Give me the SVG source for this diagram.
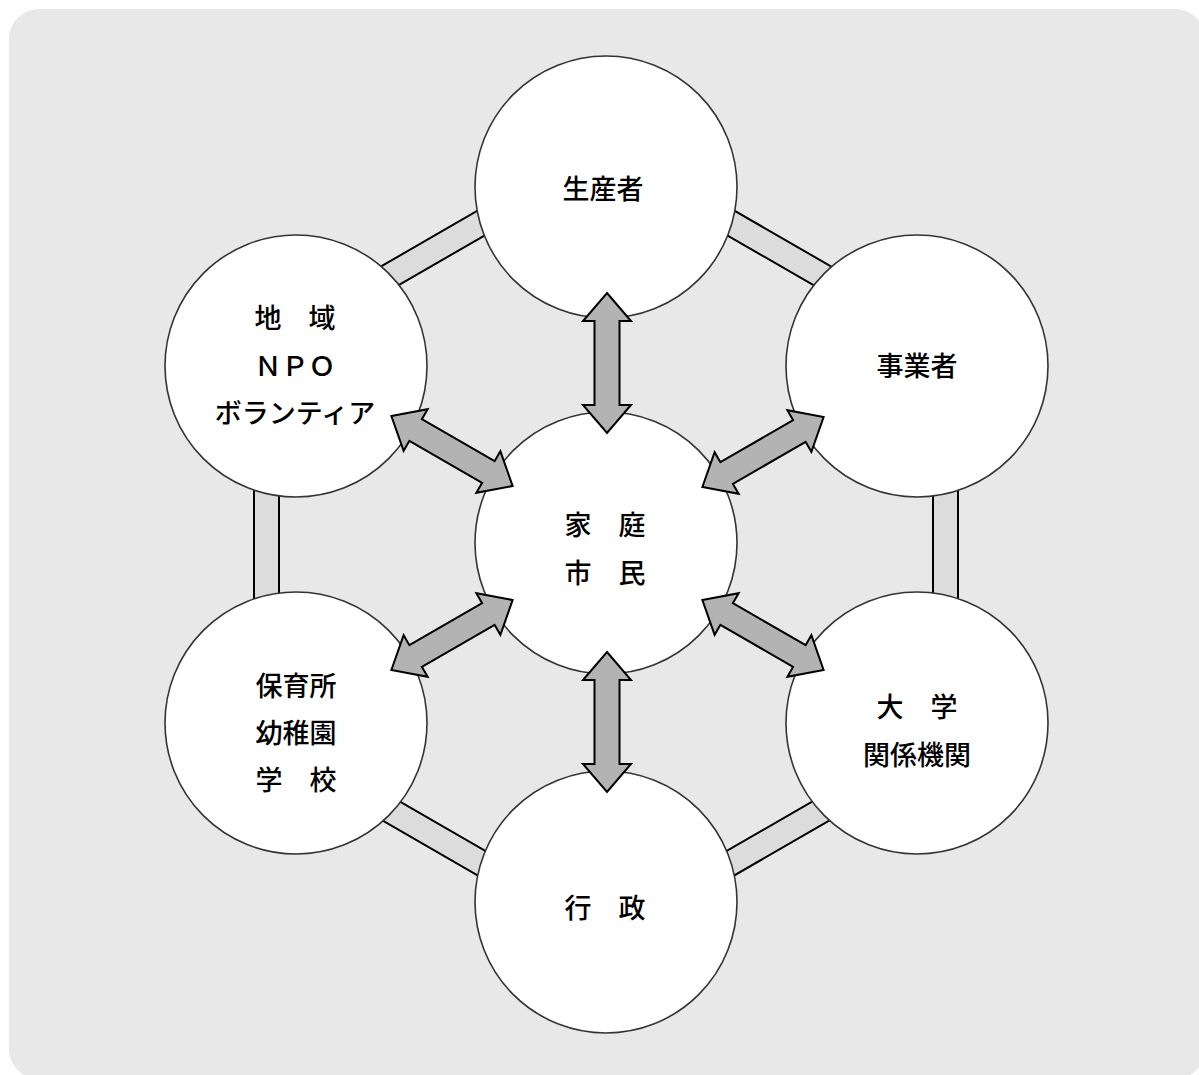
<svg xmlns="http://www.w3.org/2000/svg" width="1199" height="1075" viewBox="0 0 1199 1075">
<defs>
<style>
.bg{fill:#e8e8e8;}
.ring{fill:#dcdcdc;stroke:#000;stroke-width:2;fill-rule:evenodd;}
.node{fill:#fff;stroke:#333;stroke-width:1.6;}
.arr{fill:#b3b3b3;stroke:#000;stroke-width:2;stroke-linejoin:miter;}
.t{font-family:"Noto Sans CJK JP","Noto Sans CJK SC",sans-serif;font-size:27px;font-weight:500;fill:#000;text-anchor:middle;dominant-baseline:central;}
</style>
<path id="dbl" d="M -70 0 L -42 -24 L -42 -12.5 L 42 -12.5 L 42 -24 L 70 0 L 42 24 L 42 12.5 L -42 12.5 L -42 24 Z"/>
</defs>
<rect class="bg" x="9" y="9" width="1196" height="1070" rx="30"/>
<g id="ring">
<path class="ring" d="M606 136.5 L958 339.75 L958 746.25 L606 949.5 L254 746.25 L254 339.75 Z M606 165.4 L279 354.2 L279 731.8 L606 920.6 L933 731.8 L933 354.2 Z"/>
</g>
<g id="n-center"><circle class="node" cx="606" cy="543" r="131"/>
<text class="t" x="605" y="523">家　庭</text><text class="t" x="605" y="571">市　民</text></g>
<g id="n-top"><circle class="node" cx="606" cy="187" r="131"/>
<text class="t" x="603" y="187">生産者</text></g>
<g id="n-upright"><circle class="node" cx="917" cy="366" r="131"/>
<text class="t" x="917" y="364">事業者</text></g>
<g id="n-lowright"><circle class="node" cx="917" cy="723" r="131"/>
<text class="t" x="917" y="705">大　学</text><text class="t" x="917" y="753">関係機関</text></g>
<g id="n-bottom"><circle class="node" cx="606" cy="902" r="131"/>
<text class="t" x="605" y="906">行　政</text></g>
<g id="n-lowleft"><circle class="node" cx="296" cy="723" r="131"/>
<text class="t" x="296" y="684">保育所</text><text class="t" x="296" y="731">幼稚園</text><text class="t" x="296" y="778">学　校</text></g>
<g id="n-upleft"><circle class="node" cx="296" cy="366" r="131"/>
<text class="t" x="295" y="316">地　域</text><text class="t" x="295" y="364">ＮＰＯ</text><text class="t" x="295" y="411">ボランティア</text></g>
<g id="connectors">
<use href="#dbl" class="arr" transform="translate(607 363) rotate(90)"/>
<use href="#dbl" class="arr" transform="translate(607 722) rotate(90)"/>
<use href="#dbl" class="arr" transform="translate(452 451) rotate(30)"/>
<use href="#dbl" class="arr" transform="translate(763 452) rotate(-30)"/>
<use href="#dbl" class="arr" transform="translate(452 635) rotate(-30)"/>
<use href="#dbl" class="arr" transform="translate(763 635) rotate(30)"/>
</g>
</svg>
